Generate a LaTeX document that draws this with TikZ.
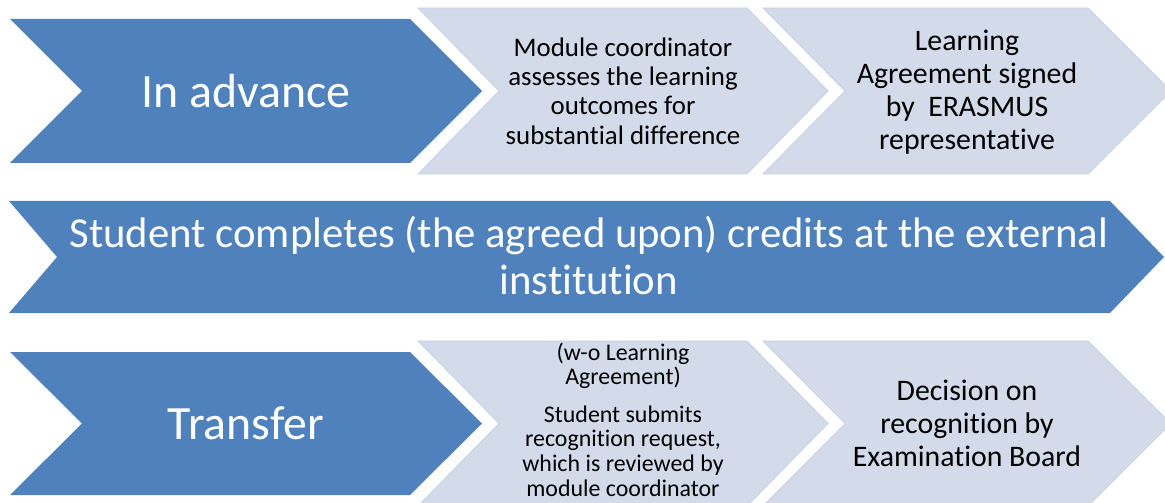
\documentclass[tikz,border=0pt]{standalone}
\usepackage{fontspec}
\setmainfont{Carlito}[Ligatures=CommonOff]

\definecolor{chevblue}{RGB}{79,129,189}
\definecolor{chevlight}{RGB}{211,218,234}
\definecolor{chevedge}{RGB}{198,206,226}

\tikzset{
  bluechev/.style={fill=chevblue},
  lightchev/.style={fill=chevlight, draw=chevedge, line width=0.5pt},
  headtext/.style={text=white, align=center, font=\fontsize{34}{40}\selectfont},
  steptext/.style={text=black, align=center, inner sep=0pt}
}

\begin{document}
\begin{tikzpicture}
  \useasboundingbox (0,0) rectangle (29.125,12.55);
  \fill [white] (0,0) rectangle (29.125,12.55);

  % Row 1: in advance
  \fill [bluechev] (0.25,12.075) -- (10.25,12.075) -- (12.05,10.275) -- (10.25,8.475) -- (0.25,8.475) -- (2.05,10.275) -- cycle;
  \draw [lightchev] (10.45,12.35) -- (18.675,12.35) -- (20.7,10.275) -- (18.675,8.2) -- (10.45,8.2) -- (12.475,10.275) -- cycle;
  \draw [lightchev] (19.075,12.35) -- (27.2,12.35) -- (29.275,10.275) -- (27.2,8.2) -- (19.075,8.2) -- (21.125,10.275) -- cycle;

  \node [headtext] (inadvance) at (6.15,10.275) {In advance};
  \node [steptext, font=\fontsize{19.1}{20.8}\selectfont] (assess) at (15.575,10.275)
    {Module coordinator\\assesses the learning\\outcomes for\\substantial difference};
  \node [steptext, font=\fontsize{21.2}{23.4}\selectfont] (signed) at (24.175,10.25)
    {Learning\\Agreement signed\\by~ ERASMUS\\representative};

  % Row 2: the stay abroad
  \fill [bluechev] (0.225,7.525) -- (27.75,7.525) -- (29.1,6.125) -- (27.75,4.725) -- (0.225,4.725) -- (1.425,6.125) -- cycle;
  \node [headtext, font=\fontsize{30.4}{33.4}\selectfont] (completes) at (14.72,6.15)
    {Student completes (the agreed upon) credits at the external\\institution};

  % Row 3: transfer
  \fill [bluechev] (0.25,3.75) -- (10.25,3.75) -- (12.05,1.9625) -- (10.25,0.175) -- (0.25,0.175) -- (2.05,1.9625) -- cycle;
  \draw [lightchev] (10.45,4.025) -- (18.675,4.025) -- (20.7,1.9625) -- (18.675,-0.1) -- (10.45,-0.1) -- (12.475,1.9625) -- cycle;
  \draw [lightchev] (19.075,4.025) -- (27.2,4.025) -- (29.275,1.9625) -- (27.2,-0.1) -- (19.075,-0.1) -- (21.125,1.9625) -- cycle;

  \node [headtext] (transfer) at (6.15,1.9625) {Transfer};
  \node [steptext, font=\fontsize{17}{17.6}\selectfont] (request) at (15.575,2.06)
    {(w-o Learning\\Agreement)\\[9pt]Student submits\\recognition request,\\which is reviewed by\\module coordinator};
  \node [steptext, font=\fontsize{21.2}{23.4}\selectfont] (decision) at (24.175,1.975)
    {Decision on\\recognition by\\Examination Board};
\end{tikzpicture}
\end{document}
